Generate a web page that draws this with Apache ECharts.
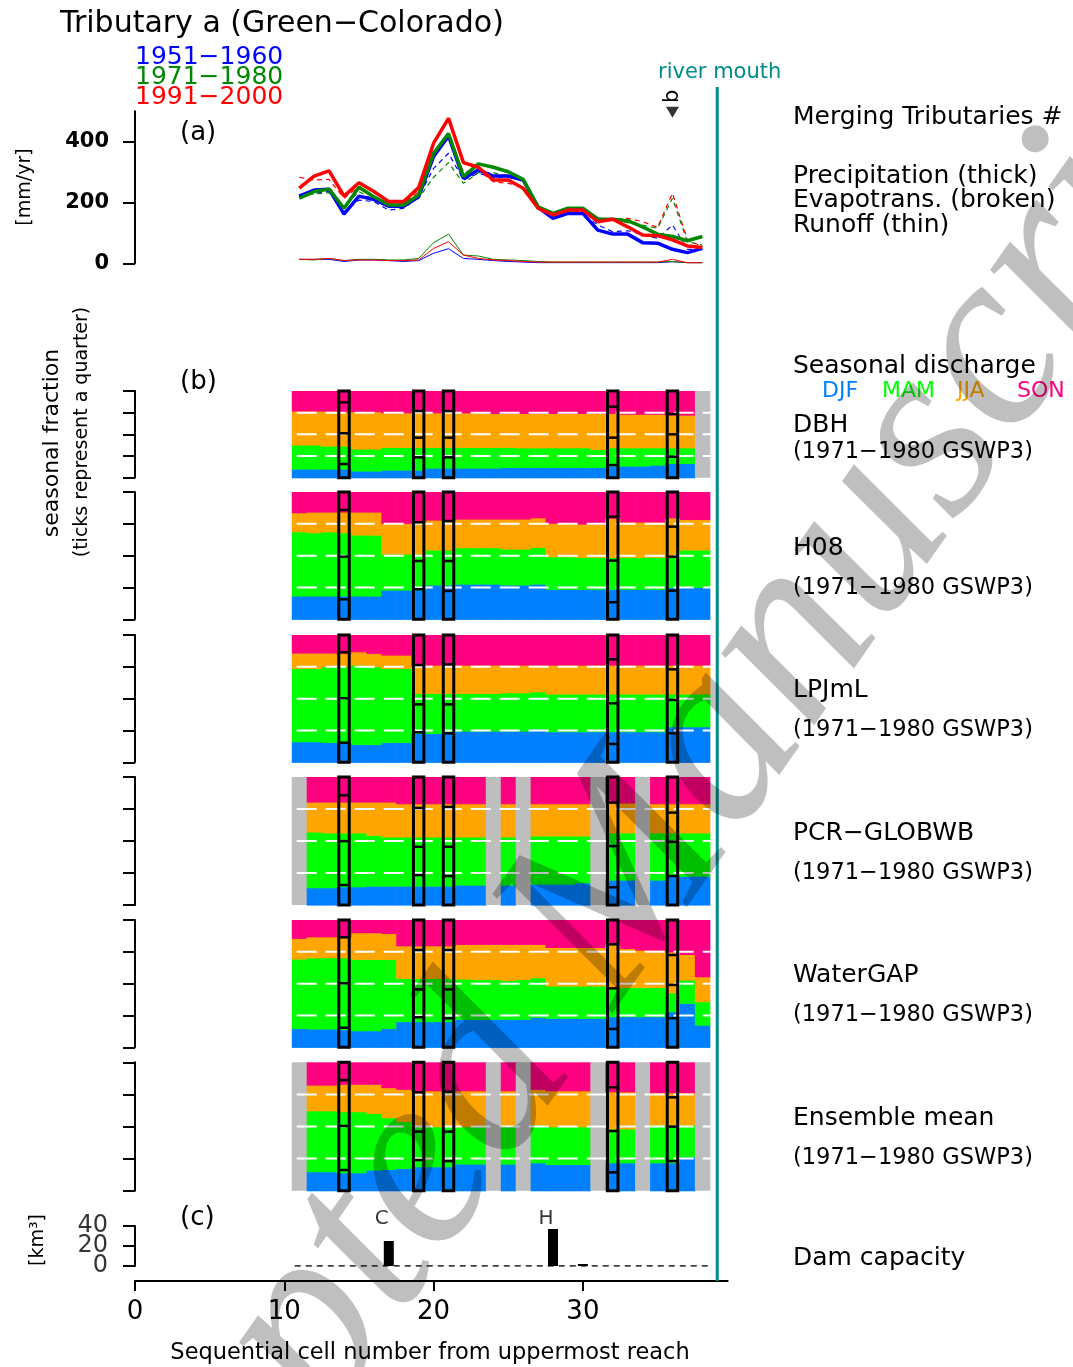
<!DOCTYPE html>
<html>
<head>
<meta charset="utf-8">
<script src="https://cdn.jsdelivr.net/npm/echarts@6/dist/echarts.min.js"></script>
<style>
html, body { margin: 0; background: #fff; }
#chart { width: 1073px; height: 1367px; }
</style>
</head>
<body>
<div id="chart"></div>
<script>
// cell numbers along the main stem (11 = uppermost plotted cell)
var cells = [11,12,13,14,15,16,17,18,19,20,21,22,23,24,25,26,27,28,29,30,31,32,33,34,35,36,37,38];

// (a) annual water balance [mm/yr]
var precip5160 = [221,241,244,162,221,210,188,188,219,351,419,279,307,287,287,274,184,148,164,164,109,96,96,68,66,46,35,49];
var precip7180 = [214,236,244,181,250,219,192,192,225,362,427,285,327,316,301,276,186,164,181,181,146,145,140,120,96,88,74,88];
var precip9100 = [247,287,304,221,265,236,203,203,249,395,477,331,316,274,274,247,181,159,175,175,137,145,120,93,91,77,57,52];
var evap5160 = [219,230,236,170,208,203,175,181,219,312,362,274,296,283,283,272,184,148,164,162,126,104,107,96,82,126,46,46];
var evap7180 = [225,228,232,186,236,210,184,186,214,283,331,263,298,298,287,276,186,162,175,177,148,140,134,126,115,214,71,60];
var evap9100 = [283,274,276,214,252,221,197,197,236,356,411,301,307,268,263,252,181,153,170,170,148,145,148,137,118,230,77,55];
var runoff5160 = [13,13,13,6,11,11,9,6,9,33,48,16,13,9,6,4,2,2,2,2,2,2,2,2,2,5,2,2];
var runoff7180 = [13,11,16,9,13,13,11,11,16,68,96,27,24,13,11,9,6,4,4,4,4,4,4,4,4,6,2,2];
var runoff9100 = [13,13,16,9,11,11,9,9,11,49,71,27,16,11,9,6,4,4,4,4,4,4,4,4,4,13,2,2];
var aTicks = [0, 200, 400];
var siteB = [36];

// (b) seasonal discharge fractions, null = no data (gray)
var dbhDJF = [.10,.10,.10,.10,.077,.077,.088,.088,.088,.112,.112,.112,.112,.112,.119,.119,.119,.119,.119,.119,.119,.135,.135,.135,.146,.165,.165,null];
var dbhMAM = [.277,.277,.265,.265,.254,.254,.262,.262,.262,.238,.238,.238,.238,.238,.231,.227,.227,.227,.227,.227,.208,.211,.211,.211,.20,.181,.181,null];
var dbhJJA = [.392,.392,.404,.397,.431,.431,.40,.40,.40,.40,.40,.40,.40,.392,.392,.396,.396,.396,.396,.396,.415,.396,.387,.387,.387,.377,.377,null];
var dbhSON = [.231,.231,.231,.238,.238,.238,.25,.25,.25,.25,.25,.25,.25,.258,.258,.258,.258,.258,.258,.258,.258,.258,.267,.267,.267,.277,.277,null];

var h08DJF = [.183,.183,.183,.183,.183,.183,.23,.23,.23,.27,.27,.277,.277,.277,.27,.27,.277,.236,.236,.236,.236,.236,.236,.236,.236,.251,.251,.251];
var h08MAM = [.505,.498,.505,.498,.479,.479,.283,.283,.283,.275,.275,.286,.286,.286,.282,.282,.288,.256,.256,.251,.251,.251,.251,.251,.251,.236,.294,.294];
var h08JJA = [.15,.162,.155,.162,.181,.181,.241,.241,.241,.235,.235,.225,.225,.225,.236,.236,.233,.262,.262,.262,.262,.306,.277,.277,.277,.311,.24,.24];
var h08SON = [.162,.157,.157,.157,.157,.157,.246,.246,.246,.22,.22,.212,.212,.212,.212,.212,.202,.246,.246,.251,.251,.207,.236,.236,.236,.202,.215,.215];

var lpjDJF = [.162,.162,.157,.157,.141,.141,.157,.157,.228,.228,.228,.246,.246,.246,.246,.246,.262,.241,.241,.241,.241,.241,.241,.241,.241,.28,.28,.28];
var lpjMAM = [.576,.576,.594,.594,.623,.61,.581,.581,.314,.314,.314,.296,.296,.296,.301,.301,.293,.296,.296,.296,.296,.296,.296,.296,.296,.257,.257,.257];
var lpjJJA = [.121,.121,.108,.108,.105,.105,.105,.105,.222,.222,.222,.222,.222,.222,.217,.217,.209,.227,.227,.227,.227,.227,.227,.227,.227,.227,.227,.227];
var lpjSON = [.141,.141,.141,.141,.131,.144,.157,.157,.236,.236,.236,.236,.236,.236,.236,.236,.236,.236,.236,.236,.236,.236,.236,.236,.236,.236,.236,.236];

var pcrDJF = [null,.135,.135,.143,.143,.148,.148,.148,.148,.148,.148,.156,.156,null,.156,null,.164,.164,.164,.174,null,.195,.195,null,.195,.226,.226,.226];
var pcrMAM = [null,.436,.429,.421,.421,.397,.384,.384,.384,.384,.384,.376,.376,null,.376,null,.376,.376,.376,.366,null,.369,.369,null,.369,.338,.338,.338];
var pcrJJA = [null,.234,.241,.241,.241,.26,.273,.26,.26,.26,.26,.26,.26,null,.26,null,.252,.252,.252,.252,null,.233,.233,null,.228,.228,.228,.228];
var pcrSON = [null,.195,.195,.195,.195,.195,.195,.208,.208,.208,.208,.208,.208,null,.208,null,.208,.208,.208,.208,null,.203,.203,null,.208,.208,.208,.208];

var wgpDJF = [.149,.144,.144,.141,.131,.131,.149,.202,.202,.202,.202,.22,.22,.22,.22,.22,.236,.228,.228,.228,.228,.241,.241,.241,.241,.28,.346,.175];
var wgpMAM = [.545,.56,.56,.563,.56,.56,.542,.34,.34,.34,.34,.317,.314,.314,.304,.314,.311,.254,.254,.254,.254,.23,.23,.23,.23,.149,.183,.184];
var wgpJJA = [.162,.165,.165,.165,.21,.21,.204,.256,.256,.256,.256,.272,.275,.275,.285,.275,.262,.303,.303,.303,.303,.338,.306,.293,.293,.321,.201,.196];
var wgpSON = [.144,.131,.131,.131,.099,.099,.105,.202,.202,.202,.202,.191,.191,.191,.191,.191,.191,.215,.215,.215,.215,.191,.223,.236,.236,.25,.27,.445];

var ensDJF = [null,.148,.148,.14,.14,.161,.166,.174,.187,.187,.187,.208,.208,null,.208,null,.218,.205,.205,.205,null,.218,.218,null,.218,.218,.265,null];
var ensMAM = [null,.475,.475,.476,.476,.442,.403,.364,.312,.312,.312,.291,.291,null,.296,null,.294,.294,.294,.294,null,.263,.263,null,.294,.294,.247,null];
var ensJJA = [null,.20,.20,.213,.213,.226,.234,.252,.28,.28,.28,.28,.28,null,.275,null,.278,.28,.28,.28,null,.29,.29,null,.252,.252,.252,null];
var ensSON = [null,.177,.177,.171,.171,.171,.197,.21,.221,.221,.221,.221,.221,null,.221,null,.21,.221,.221,.221,null,.229,.229,null,.236,.236,.236,null];

// merging tributaries: cells and their own seasonal fractions
var tribCells = [14, 19, 21, 32, 36];
var dbhTribDJF = [.158,.235,.235,.146,.242], dbhTribMAM = [.354,.227,.227,.316,.258], dbhTribJJA = [.357,.307,.307,.357,.235];
var h08TribDJF = [.157,.236,.223,.134,.225], h08TribMAM = [.335,.222,.235,.327,.267], h08TribJJA = [.367,.304,.314,.345,.236];
var lpjTribDJF = [.154,.236,.228,.144,.228], lpjTribMAM = [.349,.219,.227,.319,.262], lpjTribJJA = [.361,.309,.315,.346,.24];
var pcrTribDJF = [.156,.234,.226,.138,.226], pcrTribMAM = [.343,.221,.229,.322,.268], pcrTribJJA = [.358,.303,.311,.34,.228];
var wgpTribDJF = [.154,.236,.228,.144,.228], wgpTribMAM = [.349,.219,.227,.319,.262], wgpTribJJA = [.361,.309,.309,.346,.235];
var ensTribDJF = [.161,.239,.231,.143,.231], ensTribMAM = [.343,.221,.229,.322,.268], ensTribJJA = [.358,.306,.311,.34,.228];
var quarterLines = [0.25, 0.5, 0.75];

// (c) dam capacity [km3]
var damCells = [17, 28, 30];
var damCapacity = [25, 37, 2];
var damNames = ['C', 'H', ''];
var damTicks = [0, 20, 40];
var xTicks = [0, 10, 20, 30];
var riverMouth = 39;

var FONT = 'DejaVu Sans';
var X_MAX = 39.7;
var GRAY = '#BEBEBE';
var SEASON_COLORS = ['#0080FF', '#00FF00', '#FFA500', '#FF0080'];
var TEAL = '#008B8B';

var chart = echarts.init(document.getElementById('chart'));

var models = [
  { djf: dbhDJF, mam: dbhMAM, jja: dbhJJA, son: dbhSON, tdjf: dbhTribDJF, tmam: dbhTribMAM, tjja: dbhTribJJA, top: 391, height: 86.7 },
  { djf: h08DJF, mam: h08MAM, jja: h08JJA, son: h08SON, tdjf: h08TribDJF, tmam: h08TribMAM, tjja: h08TribJJA, top: 492, height: 127.3 },
  { djf: lpjDJF, mam: lpjMAM, jja: lpjJJA, son: lpjSON, tdjf: lpjTribDJF, tmam: lpjTribMAM, tjja: lpjTribJJA, top: 635, height: 127.3 },
  { djf: pcrDJF, mam: pcrMAM, jja: pcrJJA, son: pcrSON, tdjf: pcrTribDJF, tmam: pcrTribMAM, tjja: pcrTribJJA, top: 777, height: 128 },
  { djf: wgpDJF, mam: wgpMAM, jja: wgpJJA, son: wgpSON, tdjf: wgpTribDJF, tmam: wgpTribMAM, tjja: wgpTribJJA, top: 920, height: 127.3 },
  { djf: ensDJF, mam: ensMAM, jja: ensJJA, son: ensSON, tdjf: ensTribDJF, tmam: ensTribMAM, tjja: ensTribJJA, top: 1062.3, height: 128.4 }
];

var axisLine = { show: true, onZero: false, lineStyle: { color: '#000', width: 2 } };
var tickStyle = { color: '#000', width: 2 };

var grids = [{ left: 135, top: 111.3, width: 592.7, height: 152 }];
models.forEach(function (m) { grids.push({ left: 135, top: m.top, width: 592.7, height: m.height }); });
grids.push({ left: 135, top: 1226, width: 592.7, height: 40 });

var xAxes = grids.map(function (g, i) {
  if (i < 7) return { gridIndex: i, type: 'value', min: 0, max: X_MAX, show: false };
  return {
    gridIndex: i, type: 'value', min: 0, max: X_MAX, offset: 15,
    axisLine: axisLine,
    axisTick: { customValues: xTicks, length: 10, lineStyle: tickStyle },
    axisLabel: { customValues: xTicks, fontSize: 26, fontFamily: FONT, color: '#000', margin: 18 },
    splitLine: { show: false }
  };
});

var yAxes = [{
  gridIndex: 0, type: 'value', min: 0, max: 500, axisLine: axisLine,
  axisTick: { customValues: aTicks, length: 12, lineStyle: tickStyle },
  axisLabel: { customValues: aTicks, fontSize: 21, fontWeight: 'bold', fontFamily: FONT, color: '#000', margin: 26 },
  splitLine: { show: false }
}];
models.forEach(function (m, i) {
  yAxes.push({
    gridIndex: i + 1, type: 'value', min: 0, max: 1, interval: 0.25, axisLine: axisLine,
    axisTick: { length: 12, lineStyle: tickStyle }, axisLabel: { show: false }, splitLine: { show: false }
  });
});
// panel (c): labels are crowded (20 px apart), so they are drawn by a label-only series below
yAxes.push({
  gridIndex: 7, type: 'value', min: 0, max: 40, interval: 20, axisLine: axisLine,
  axisTick: { length: 12, lineStyle: tickStyle },
  axisLabel: { show: false },
  splitLine: { show: false }
});

function pairs(vals) { return cells.map(function (c, i) { return [c, vals[i]]; }); }

var series = [];
function balanceLine(vals, color, width, dash, z) {
  series.push({
    type: 'line', xAxisIndex: 0, yAxisIndex: 0, data: pairs(vals), symbol: 'none', z: z,
    lineStyle: { color: color, width: width, type: dash }
  });
}
var periodColors = ['#0000FF', '#008800', '#FF0000'];
[evap5160, evap7180, evap9100].forEach(function (v, i) { balanceLine(v, periodColors[i], 1.2, [5, 4], 2); });
[runoff5160, runoff7180, runoff9100].forEach(function (v, i) { balanceLine(v, periodColors[i], 1, 'solid', 2); });
[precip5160, precip7180, precip9100].forEach(function (v, i) { balanceLine(v, periodColors[i], 3.5, 'solid', 3); });
series.push({
  type: 'scatter', xAxisIndex: 0, yAxisIndex: 0, data: siteB.map(function (c) { return [c, 497]; }),
  symbol: 'triangle', symbolRotate: 180, symbolSize: [13, 11], itemStyle: { color: '#000' }, clip: false, z: 5
});

function seasonRender(params, api) {
  var c = api.value(0);
  var p0 = api.coord([c - 0.5, 0]), p1 = api.coord([c + 0.5, 1]);
  var w = p1[0] - p0[0] + 0.6;
  if (api.value(5) === 1) {
    return { type: 'rect', shape: { x: p0[0], y: p1[1], width: w, height: p0[1] - p1[1] }, style: { fill: GRAY } };
  }
  var children = [], acc = 0;
  for (var k = 0; k < 4; k++) {
    var s = api.value(k + 1);
    var yb = api.coord([c, acc])[1], yt = api.coord([c, k === 3 ? 1 : acc + s])[1];
    children.push({ type: 'rect', shape: { x: p0[0], y: yt, width: w, height: yb - yt + 0.6 }, style: { fill: SEASON_COLORS[k] } });
    acc += s;
  }
  return { type: 'group', children: children };
}

function quarterRender(params, api) {
  var a = api.coord([api.value(0), api.value(1)]);
  var b = api.coord([riverMouth, api.value(1)]);
  return { type: 'line', shape: { x1: a[0], y1: a[1], x2: b[0], y2: b[1] }, style: { stroke: '#fff', lineWidth: 2, lineDash: [20, 9] } };
}

function tribRender(params, api) {
  var c = api.value(0);
  var l = api.coord([c - 0.35, 0]), r = api.coord([c + 0.35, 1]);
  var children = [{ type: 'rect', shape: { x: l[0], y: r[1], width: r[0] - l[0], height: l[1] - r[1] }, style: { fill: 'none', stroke: '#000', lineWidth: 3 } }];
  var acc = 0;
  for (var k = 1; k <= 3; k++) {
    acc += api.value(k);
    var y = api.coord([c, acc])[1];
    children.push({ type: 'line', shape: { x1: l[0], y1: y, x2: r[0], y2: y }, style: { stroke: '#000', lineWidth: 2.5 } });
  }
  return { type: 'group', children: children };
}

models.forEach(function (m, i) {
  var gi = i + 1;
  series.push({
    type: 'custom', xAxisIndex: gi, yAxisIndex: gi, renderItem: seasonRender, z: 2,
    encode: { x: 0, y: 1 },
    data: cells.map(function (c, j) {
      return m.djf[j] == null ? [c, 0, 0, 0, 0, 1] : [c, m.djf[j], m.mam[j], m.jja[j], m.son[j], 0];
    })
  });
  series.push({
    type: 'custom', xAxisIndex: gi, yAxisIndex: gi, renderItem: quarterRender, z: 3,
    encode: { x: 0, y: 1 },
    data: quarterLines.map(function (q) { return [10.83, q]; })
  });
  series.push({
    type: 'custom', xAxisIndex: gi, yAxisIndex: gi, renderItem: tribRender, z: 4,
    encode: { x: 0, y: 1 },
    data: tribCells.map(function (c, j) { return [c, m.tdjf[j], m.tmam[j], m.tjja[j]]; })
  });
});

series.push({
  type: 'line', xAxisIndex: 7, yAxisIndex: 7, data: [[10.7, 0], [38.6, 0]], symbol: 'none',
  lineStyle: { color: '#000', width: 1.3, type: [6, 5] }, z: 2
});
series.push({
  type: 'bar', xAxisIndex: 7, yAxisIndex: 7, barWidth: 10, itemStyle: { color: '#000' }, z: 3,
  data: damCells.map(function (c, i) { return [c, damCapacity[i]]; })
});
series.push({
  type: 'scatter', xAxisIndex: 7, yAxisIndex: 7, symbolSize: 0, clip: false,
  data: damCells.map(function (c, i) { return { value: [c, 47], name: damNames[i] }; }),
  label: { show: true, position: 'inside', offset: [-7, 0], formatter: '{b}', fontSize: 20, fontFamily: FONT, color: '#000' }
});
series.push({
  type: 'scatter', xAxisIndex: 7, yAxisIndex: 7, symbolSize: 0, clip: false, silent: true,
  data: damTicks.map(function (v) { return [0, v]; }),
  label: {
    show: true, position: 'left', distance: 27, fontSize: 24, fontFamily: FONT, color: '#000',
    formatter: function (p) { return String(p.value[1]); }
  },
  labelLayout: { hideOverlap: false }
});

chart.setOption({
  animation: false,
  backgroundColor: '#fff',
  grid: grids,
  xAxis: xAxes,
  yAxis: yAxes,
  series: series
});

function txt(s, x, y, size, extra) {
  var el = { type: 'text', x: x, y: y, z: 50, style: { text: s, fontSize: size, fontFamily: FONT, fill: '#000', align: 'left', verticalAlign: 'middle' } };
  if (extra) {
    for (var k in extra) {
      if (k === 'style') { for (var s2 in extra.style) el.style[s2] = extra.style[s2]; }
      else el[k] = extra[k];
    }
  }
  return el;
}

var mouthX = chart.convertToPixel({ xAxisIndex: 7 }, riverMouth);
var bPos = chart.convertToPixel({ gridIndex: 0 }, [siteB[0], 497]);
var ROT = Math.PI / 2;
var sub = '(1971\u22121980 GSWP3)';

var graphics = [
  txt('Tributary a (Green\u2212Colorado)', 60, 24, 30),
  txt('1951\u22121960', 135, 57, 25, { style: { fill: '#0000FF' } }),
  txt('1971\u22121980', 135, 77, 25, { style: { fill: '#008800' } }),
  txt('1991\u22122000', 135, 97, 25, { style: { fill: '#FF0000' } }),
  txt('(a)', 180, 133, 26),
  txt('(b)', 180, 382, 26),
  txt('(c)', 180, 1218, 26),
  txt('[mm/yr]', 25, 187, 19, { rotation: ROT, style: { align: 'center' } }),
  txt('seasonal fraction', 52, 443, 22, { rotation: ROT, style: { align: 'center' } }),
  txt('(ticks represent a quarter)', 82, 432, 19, { rotation: ROT, style: { align: 'center' } }),
  txt('[km\u00B3]', 38, 1240, 19, { rotation: ROT, style: { align: 'center' } }),
  txt('Sequential cell number from uppermost reach', 430, 1353, 22.5, { style: { align: 'center' } }),
  txt('river mouth', 658, 73, 21, { style: { fill: TEAL } }),
  txt('b', bPos[0], bPos[1] - 16, 21, { rotation: ROT, style: { align: 'center' } }),
  txt('Merging Tributaries #', 793, 117, 25),
  txt('Precipitation (thick)', 793, 176, 25),
  txt('Evapotrans. (broken)', 793, 200, 25),
  txt('Runoff (thin)', 793, 225, 25),
  txt('Seasonal discharge', 793, 366, 25),
  txt('DJF', 822, 391, 22, { style: { fill: SEASON_COLORS[0] } }),
  txt('MAM', 882, 391, 22, { style: { fill: SEASON_COLORS[1] } }),
  txt('JJA', 957, 391, 22, { style: { fill: SEASON_COLORS[2] } }),
  txt('SON', 1017, 391, 22, { style: { fill: SEASON_COLORS[3] } }),
  txt('DBH', 793, 425, 25), txt(sub, 793, 452, 22.5),
  txt('H08', 793, 548, 25), txt(sub, 793, 588, 22.5),
  txt('LPJmL', 793, 690, 25), txt(sub, 793, 730, 22.5),
  txt('PCR\u2212GLOBWB', 793, 833, 25), txt(sub, 793, 873, 22.5),
  txt('WaterGAP', 793, 975, 25), txt(sub, 793, 1015, 22.5),
  txt('Ensemble mean', 793, 1118, 25), txt(sub, 793, 1158, 22.5),
  txt('Dam capacity', 793, 1258, 25),
  { type: 'line', z: 40, shape: { x1: mouthX, y1: 87, x2: mouthX, y2: 1281 }, style: { stroke: TEAL, lineWidth: 3 } },
  { type: 'text', x: 610, y: 900, rotation: 55 * Math.PI / 180, z: 100, silent: true,
    style: { text: 'Accepted Manuscript', fontSize: 255, fontFamily: 'Liberation Serif', fontStyle: 'italic',
      fill: 'rgba(0,0,0,0.25)', align: 'center', verticalAlign: 'middle' } }
];

chart.setOption({ graphic: graphics });
</script>
</body>
</html>
